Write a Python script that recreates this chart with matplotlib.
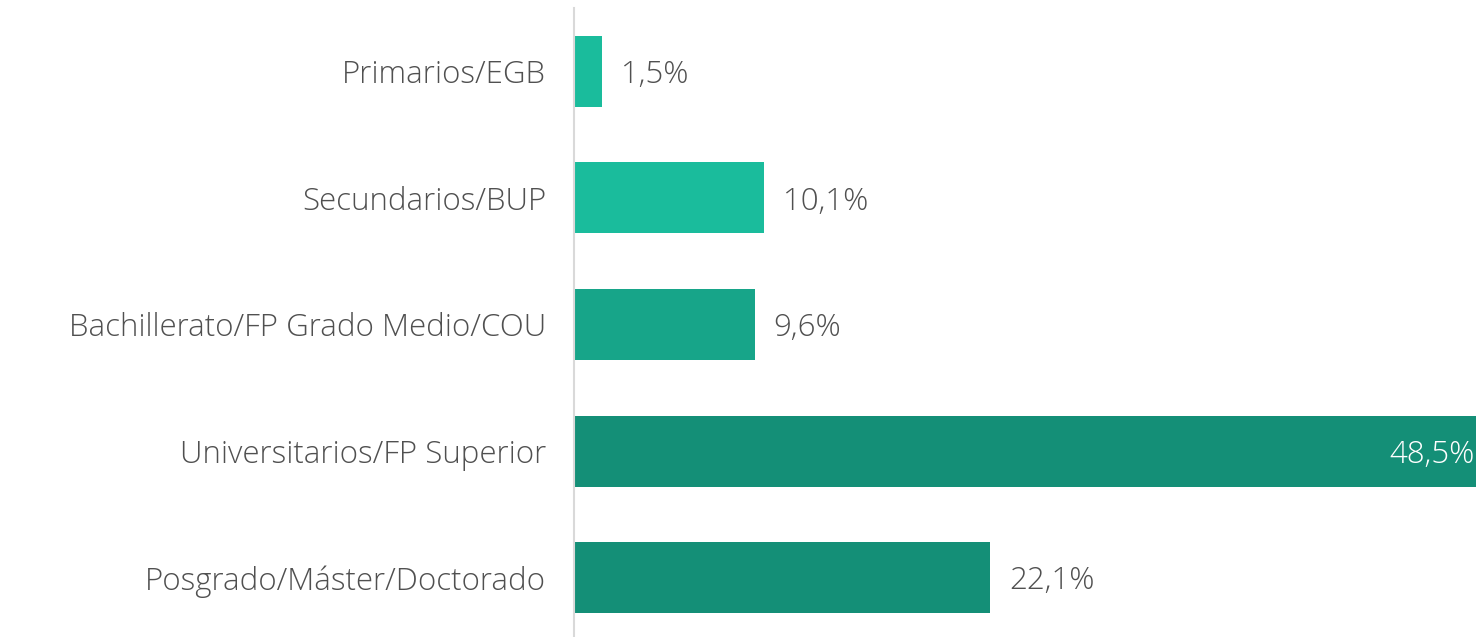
import matplotlib
matplotlib.use("Agg")
import matplotlib.pyplot as plt

# ── Data ──────────────────────────────────────────────────────────────────────
categories = ["Primarios/EGB", "Secundarios/BUP", "Bachillerato/FP Grado Medio/COU",
              "Universitarios/FP Superior", "Posgrado/Máster/Doctorado"]
values = [1.5, 10.1, 9.6, 48.5, 22.1]
labels = ["1,5%", "10,1%", "9,6%", "48,5%", "22,1%"]
colors = ["#1ABC9C", "#1ABC9C", "#17A589", "#148F77", "#148F77"]

TEXT = "#505050"
FONT = "Open Sans"
WEIGHT = "light"
FS = 22.5

# ── Plot ──────────────────────────────────────────────────────────────────────
fig = plt.figure(figsize=(14.76, 6.37), dpi=100)
ax = fig.add_axes([574 / 1476, -4 / 637, 902 / 1476, 633 / 637])

y = list(range(len(categories)))
ax.barh(y, values, height=0.56, color=colors)
ax.set_ylim(len(categories) - 0.5, -0.5)
ax.set_xlim(0, 47.9)

for yi, v, lab in zip(y, values, labels):
    if v > 40:
        ax.text(47.85, yi + 0.03, lab, ha="right", va="center", color="white",
                fontsize=FS, family=FONT, weight=WEIGHT)
    else:
        ax.text(v + 1.0, yi + 0.03, lab, ha="left", va="center", color=TEXT,
                fontsize=FS, family=FONT, weight=WEIGHT)

ax.set_yticks(y)
ax.set_yticklabels(categories, fontsize=FS, color=TEXT, family=FONT, weight=WEIGHT)
ax.tick_params(axis="y", length=0, pad=20)
ax.set_xticks([])
for s in ["top", "right", "bottom"]:
    ax.spines[s].set_visible(False)
ax.spines["left"].set_color("#D9D9D9")
ax.spines["left"].set_linewidth(1.5)

fig.savefig("out.png", dpi=100)
